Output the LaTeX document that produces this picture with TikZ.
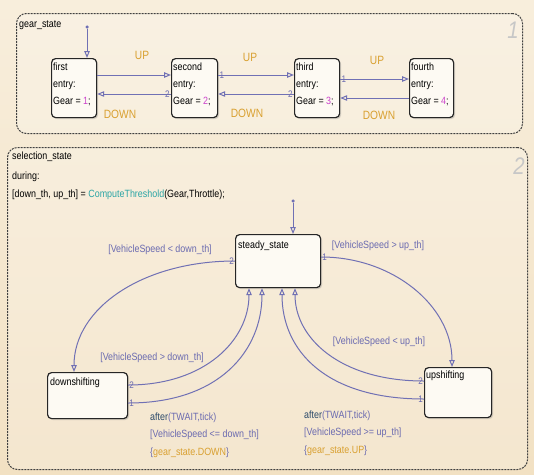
\documentclass[tikz,border=0pt]{standalone}
\usepackage{fontspec}
\setmainfont{Liberation Sans}[FakeStretch=0.85]
\usetikzlibrary{arrows.meta,shadows,calc}
\definecolor{bgtop}{HTML}{F8EEDC}
\definecolor{bgbot}{HTML}{F2E1C3}
\definecolor{trc}{HTML}{7070B4}
\definecolor{lblc}{HTML}{6A6AB0}
\definecolor{orangec}{HTML}{D9A030}
\definecolor{magc}{HTML}{CC44CC}
\definecolor{tealc}{HTML}{2BA5A5}
\definecolor{navyc}{HTML}{2C4A6A}
\definecolor{boxfill}{HTML}{FDFAF3}
\begin{document}
\begin{tikzpicture}[x=1pt,y=-1pt,
  compound/.style={draw=black!75, dash pattern=on 2pt off 1pt, line width=1pt, rounded corners=10pt, fill=white, fill opacity=0.2, text opacity=1, inner sep=0, anchor=north west},
  statebox/.style={draw=black!85, line width=1.2pt, rounded corners=4pt, fill=boxfill, inner sep=0, anchor=north west,
    drop shadow={shadow xshift=1.5pt, shadow yshift=-1.5pt, opacity=0.3}},
  txt/.style={inner sep=0, anchor=west, font=\fontsize{10.5}{12}\selectfont},
  lbl/.style={inner sep=0, font=\fontsize{10.5}{12}\selectfont, text=lblc},
  updown/.style={inner sep=0, font=\fontsize{12}{14}\selectfont, text=orangec},
  num/.style={inner sep=1pt, font=\fontsize{9.5}{10}\selectfont, text=lblc},
  bignum/.style={inner sep=0, font=\fontsize{24}{24}\selectfont\itshape, text=black!22},
  tr/.style={draw=trc, line width=1pt, -{Triangle[open, length=7pt, width=5.5pt]}},
  dot/.style={circle, fill=trc, inner sep=0, minimum size=3.5pt}]
\useasboundingbox (0,0) rectangle (534,474);
\shade[top color=bgtop, bottom color=bgbot] (0,0) rectangle (534,474);

% compound states
\node[compound, minimum width=506pt, minimum height=120pt] (gear) at (16,13) {};
\node[compound, minimum width=520pt, minimum height=322pt] (sel) at (7,147) {};
\node[bignum] (n1) at (513,30) {1};
\node[bignum] (n2) at (519,166) {2};
\node[txt] (gearT) at (19,25) {gear\_state};
\node[txt] (selT1) at (12,157) {selection\_state};
\node[txt] (selT2) at (12,177) {during:};
\node[txt] (selT3) at (12,195) {[down\_th, up\_th] = \textcolor{tealc}{ComputeThreshold}(Gear,Throttle);};

% gear states
\node[statebox, minimum width=45pt, minimum height=59pt] (first) at (51,58) {};
\node[statebox, minimum width=46pt, minimum height=59pt] (second) at (171,58) {};
\node[statebox, minimum width=45pt, minimum height=59pt] (third) at (294,58) {};
\node[statebox, minimum width=44pt, minimum height=59pt] (fourth) at (409,58) {};

\node[txt] (f1) at (53,67) {first};
\node[txt] (f2) at (53,85) {entry:};
\node[txt] (f3) at (53,102) {Gear = \textcolor{magc}{1};};
\node[txt] (s1) at (173,67) {second};
\node[txt] (s2) at (173,85) {entry:};
\node[txt] (s3) at (173,102) {Gear = \textcolor{magc}{2};};
\node[txt] (t1) at (296,67) {third};
\node[txt] (t2) at (296,85) {entry:};
\node[txt] (t3) at (296,102) {Gear = \textcolor{magc}{3};};
\node[txt] (q1) at (411,67) {fourth};
\node[txt] (q2) at (411,85) {entry:};
\node[txt] (q3) at (411,102) {Gear = \textcolor{magc}{4};};

\node[dot] (i1) at (87,27) {};
\draw[tr] (i1) -- (i1 |- first.north);

\draw[tr] ([yshift=-17pt]first.north east) -- ([yshift=-17pt]second.north west);
\draw[tr] ([yshift=-36pt]second.north west) -- ([yshift=-36pt]first.north east)
  node[num, pos=0, anchor=east] {2};
\draw[tr] ([yshift=-17pt]second.north east) -- ([yshift=-17pt]third.north west)
  node[num, pos=0, anchor=west] {1};
\draw[tr] ([yshift=-36pt]third.north west) -- ([yshift=-36pt]second.north east)
  node[num, pos=0, anchor=east] {2};
\draw[tr] ([yshift=-21pt]third.north east) -- ([yshift=-21pt]fourth.north west)
  node[num, pos=0, anchor=west] {1};
\draw[tr] ([yshift=-40pt]fourth.north west) -- ([yshift=-40pt]third.north east);

\node[updown] (u1) at (142,55) {UP};
\node[updown] (d1) at (120,114) {DOWN};
\node[updown] (u2) at (250,57) {UP};
\node[updown] (d2) at (247,113) {DOWN};
\node[updown] (u3) at (377,60) {UP};
\node[updown] (d3) at (379,115) {DOWN};

% selection states
\node[statebox, minimum width=85pt, minimum height=53pt] (steady) at (235,234) {};
\node[statebox, minimum width=80pt, minimum height=46pt] (down) at (47,372) {};
\node[statebox, minimum width=67pt, minimum height=50pt] (up) at (424,367) {};
\node[txt] (stT) at (238,246) {steady\_state};
\node[txt] (dnT) at (50,383) {downshifting};
\node[txt] (upT) at (426,376) {upshifting};

\node[dot] (i2) at (293,201) {};
\draw[tr] (i2) -- (i2 |- steady.north);

\draw[tr] ([yshift=-27pt]steady.north west) .. controls (143,261) and (74,308) .. ([xshift=27pt]down.north west);
\node[num, anchor=east] (n2a) at ([yshift=-27pt]steady.north west) {2};
\draw[tr] ([yshift=-23pt]steady.north east) .. controls (393,257) and (452,306) .. ([xshift=28pt]up.north west);
\node[num, anchor=west] (n1a) at ([yshift=-23pt]steady.north east) {1};

\draw[tr] ([yshift=-13pt]down.north east) .. controls (205,385) and (249,340) .. ([xshift=14pt]steady.south west);
\node[num, anchor=west] (n2b) at ([yshift=-13pt]down.north east) {2};
\draw[tr] ([yshift=-31pt]down.north east) .. controls (220,403) and (262,350) .. ([xshift=27pt]steady.south west);
\node[num, anchor=west] (n1b) at ([yshift=-31pt]down.north east) {1};
\draw[tr] ([yshift=-14pt]up.north west) .. controls (340,381) and (295,338) .. ([xshift=60pt]steady.south west);
\node[num, anchor=east] (n2c) at ([yshift=-14pt]up.north west) {2};
\draw[tr] ([yshift=-32pt]up.north west) .. controls (325,399) and (282,350) .. ([xshift=47pt]steady.south west);
\node[num, anchor=east] (n1c) at ([yshift=-32pt]up.north west) {1};

\node[lbl] (l1) at (160,250) {[VehicleSpeed < down\_th]};
\node[lbl] (l2) at (378,246) {[VehicleSpeed > up\_th]};
\node[lbl] (l3) at (152,358) {[VehicleSpeed > down\_th]};
\node[lbl] (l4) at (379,342) {[VehicleSpeed < up\_th]};

\node[lbl, anchor=west] (a1) at (150,418) {\textcolor{navyc}{after}(TWAIT,tick)};
\node[lbl, anchor=west] (a2) at (150,435) {[VehicleSpeed <= down\_th]};
\node[lbl, anchor=west] (a3) at (150,453) {\{\textcolor{orangec}{gear\_state.DOWN}\}};
\node[lbl, anchor=west] (b1) at (304,416) {\textcolor{navyc}{after}(TWAIT,tick)};
\node[lbl, anchor=west] (b2) at (304,433) {[VehicleSpeed >= up\_th]};
\node[lbl, anchor=west] (b3) at (304,451) {\{\textcolor{orangec}{gear\_state.UP}\}};
\end{tikzpicture}
\end{document}
